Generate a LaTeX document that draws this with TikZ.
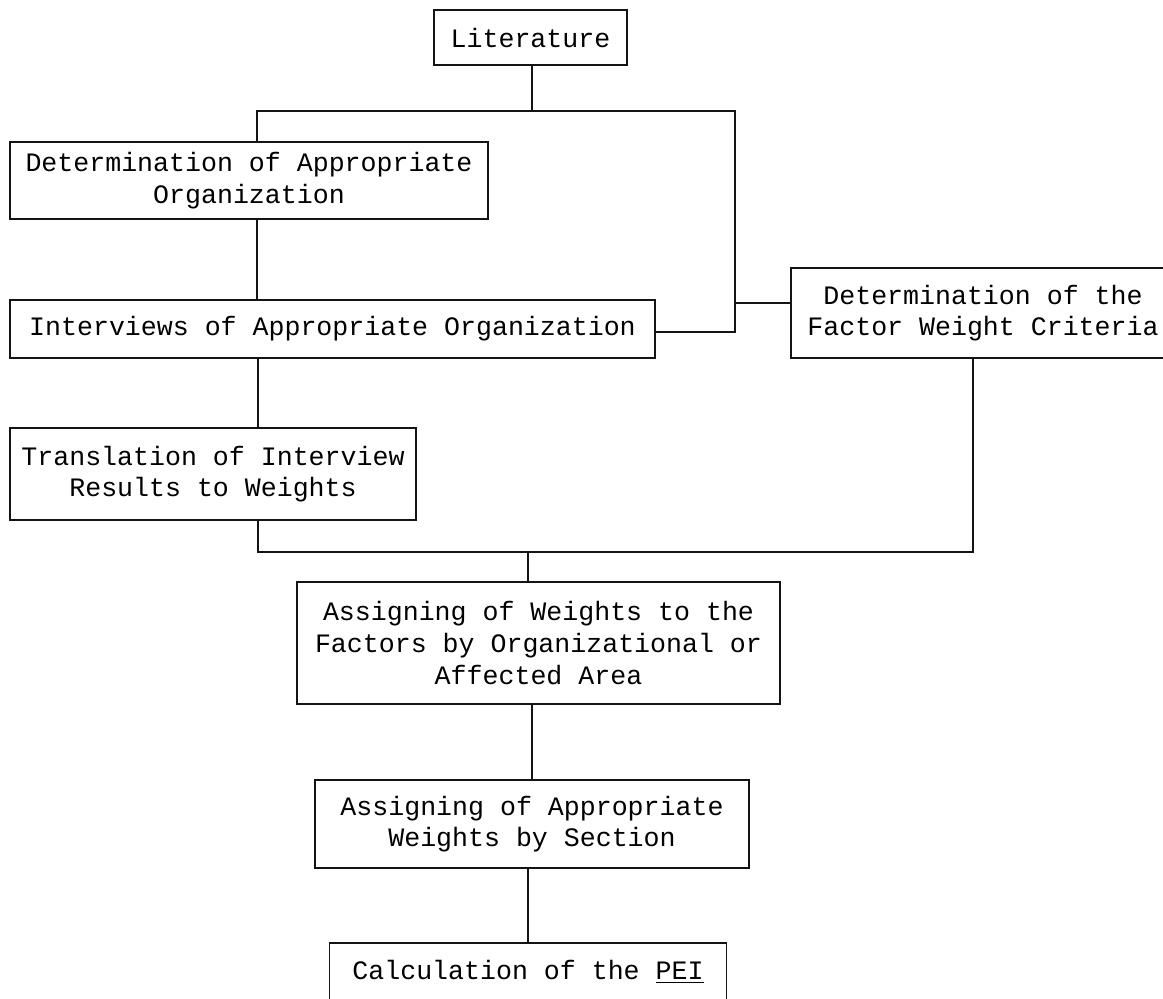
\documentclass[tikz,border=0pt]{standalone}
\usepackage{fontspec}
\usepackage{tikz}
\usepackage{xcolor}
\usetikzlibrary{calc,positioning}
\newfontfamily\typewriter{Liberation Mono}
\definecolor{ink}{RGB}{20, 20, 20}

\tikzset{
    flowbox/.style={draw=ink, line width=0.9pt, align=center, inner sep=0pt,
        font=\typewriter\fontsize{13.3}{15.8}\selectfont},
    link/.style={draw=ink, line width=0.9pt}
}

\begin{document}
\begin{tikzpicture}[x=0.5pt, y=-0.5pt]
                \useasboundingbox (0,0) rectangle (1163,998);

                % boxes
                \node[flowbox, minimum width=96.5pt, minimum height=27.5pt] (lit) at (530.5,37.5) {Literature};
                \node[flowbox, minimum width=239pt, minimum height=38.5pt] (detorg) at (249,180.5) {Determination of Appropriate\\Organization};
                \node[flowbox, minimum width=322.5pt, minimum height=29pt] (interv) at (332.5,329) {Interviews of Appropriate Organization};
                \node[flowbox, minimum width=192pt, minimum height=45pt] (fwc) at (983,313) {Determination of the\\Factor Weight Criteria};
                \node[flowbox, minimum width=203pt, minimum height=46pt] (trans) at (213,474) {Translation of Interview\\Results to Weights};
                \node[flowbox, minimum width=241.5pt, minimum height=61pt] (assign) at (538.5,643) {Assigning of Weights to the\\Factors by Organizational or\\Affected Area};
                \node[flowbox, minimum width=217pt, minimum height=44pt] (section) at (532,824) {Assigning of Appropriate\\Weights by Section};
                \node[flowbox, minimum width=198.5pt, minimum height=28.5pt] (calc) at (528,971.5) {Calculation of the \underline{PEI}};

                % junction points
                \coordinate (jlit) at (532,111);
                \coordinate (jleft) at (257,111);
                \coordinate (jright) at (735,111);
                \coordinate (jmid) at (735,303);
                \coordinate (jlow) at (735,332);
                \coordinate (jbotl) at (258,552);
                \coordinate (jbotr) at (973,552);
                \coordinate (jassign) at (528,552);

                % connectors
                \draw[link] (jlit |- lit.south) -- (jlit);
                \draw[link] (detorg.north -| jleft) -- (jleft) -- (jright) -- (jlow) -- (jlow -| interv.east);
                \draw[link] (jmid) -- (jmid -| fwc.west);
                \draw[link] (detorg.south -| jleft) -- (interv.north -| jleft);
                \draw[link] (interv.south -| jbotl) -- (trans.north -| jbotl);
                \draw[link] (trans.south -| jbotl) -- (jbotl) -- (jbotr) -- (fwc.south -| jbotr);
                \draw[link] (jassign) -- (assign.north -| jassign);
                \draw[link] (assign.south -| section.north) -- (section.north);
                \draw[link] (section.south -| calc.north) -- (calc.north);
            \end{tikzpicture}
\end{document}
